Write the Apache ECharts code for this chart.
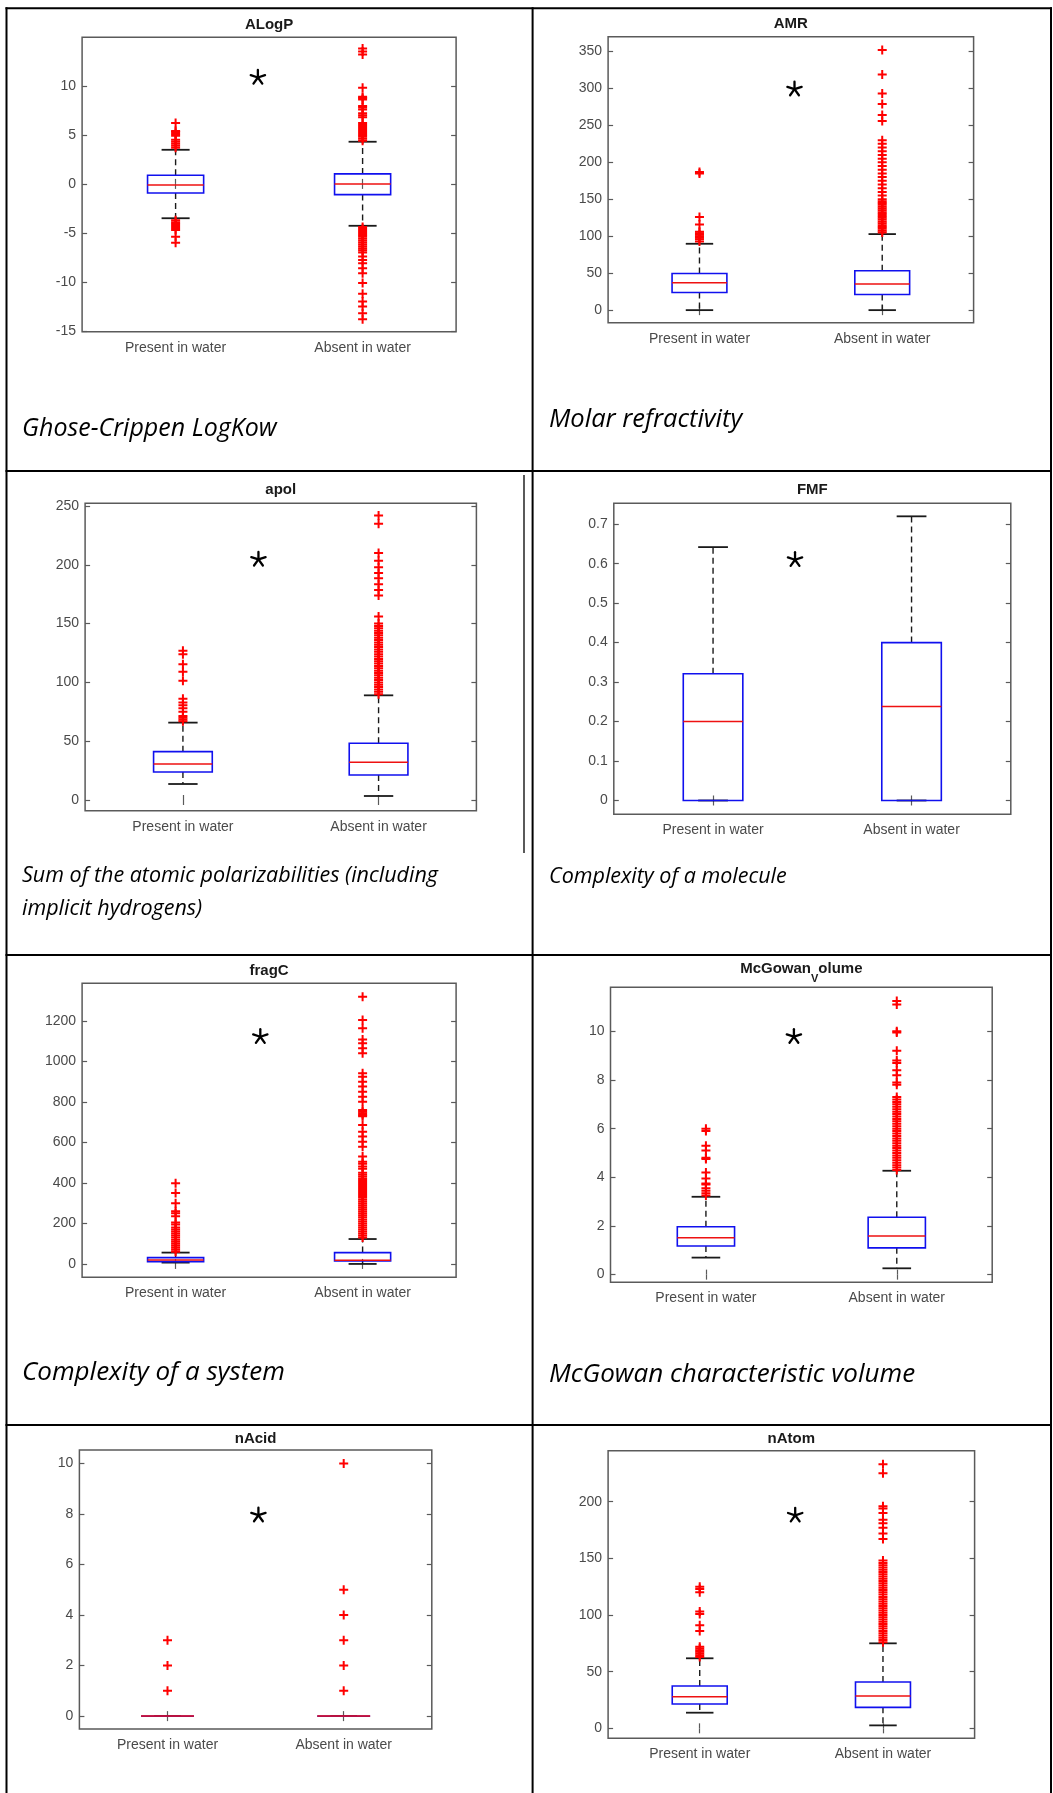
<!DOCTYPE html>
<html><head><meta charset="utf-8">
<script src="https://cdn.jsdelivr.net/npm/echarts@6/dist/echarts.min.js"></script>
<style>html,body{margin:0;padding:0;background:#fff;}#c{width:1053px;height:1793px;}</style>
</head><body><div id="c"></div>
<script>
// ---------- DATA ----------
const categories = ['Present in water', 'Absent in water'];
const panelTitles = ['ALogP', 'AMR', 'apol', 'FMF', 'fragC', '{n|McGowan}{s|V}{n|olume}', 'nAcid', 'nAtom'];
const captionTexts = ['Ghose-Crippen LogKow', 'Molar refractivity', 'Sum of the atomic polarizabilities (including', 'implicit hydrogens)', 'Complexity of a molecule', 'Complexity of a system', 'McGowan characteristic volume'];

// stats per group: [lower whisker, Q1, median, Q3, upper whisker]
const alogpStats = [[-3.5, -0.92, -0.1, 0.89, 3.48], [-4.27, -1.09, 0.0, 1.02, 4.3]];
const amrStats = [[0, 23.9, 37, 49.6, 89.8], [0, 21.2, 35.2, 53.3, 102.9]];
const apolStats = [[13.6, 23.8, 30.6, 41.1, 65.8], [3.4, 21.3, 32.0, 48.2, 89.0]];
const fmfStats = [[0, 0, 0.2, 0.321, 0.642], [0, 0, 0.238, 0.4, 0.72]];
const fragcStats = [[6.6, 11.5, 20, 31, 56], [0, 15, 18, 56, 123]];
const mcgowanStats = [[0.7, 1.18, 1.52, 1.97, 3.2], [0.26, 1.1, 1.59, 2.36, 4.27]];
const nacidStats = [[0, 0, 0, 0, 0], [0, 0, 0, 0, 0]];
const natomStats = [[13.8, 21.5, 27.9, 37.4, 61.8], [2.6, 18.5, 28.5, 40.9, 75]];

// outliers
const alogpOutPresent = [3.7, 3.9, 4.1, 4.3, 4.5, 4.9, 5.1, 5.3, 5.4, 6.2, -3.7, -3.9, -4.1, -4.3, -4.5, -4.7, -5.4, -6.0];
const alogpOutAbsent = [4.4, 4.6, 4.8, 5.0, 5.2, 5.4, 5.6, 5.8, 6.0, 6.2, 6.8, 7.0, 7.2, 7.6, 7.8, 7.95, 8.6, 8.75, 8.9, 9.8, 13.2, 13.5, 13.8,
  -4.4, -4.6, -4.8, -5.0, -5.2, -5.4, -5.6, -5.8, -6.0, -6.2, -6.4, -6.6, -6.8, -7.0, -7.4, -7.75, -8.1, -8.6, -9.1, -10.1, -11.2, -12.0, -12.5, -13.2, -13.8];
const amrOutPresent = [93, 96, 98, 100, 102, 104, 106, 116, 126, 185, 187];
const amrOutAbsent = [105, 107.5, 110, 112.5, 115, 117.5, 120, 122.5, 125, 127.5, 130, 132.5, 135, 137.5, 140, 142.5, 145, 147.5, 150,
  155, 160, 165, 170, 175, 180, 185, 190, 195, 200, 205, 210, 215, 220, 225, 230, 256, 264, 279, 293, 319, 352];
const apolOutPresent = [67, 68.5, 70, 71.5, 75, 78, 80.5, 83, 86, 101.5, 109, 115.5, 124, 127];
const apolOutAbsent = [90, 92, 94, 96, 98, 100, 102, 104, 106, 108, 110, 112, 114, 116, 118, 120, 122, 124, 126, 128, 130, 132, 134, 136, 138, 140, 142, 144, 146, 148, 150,
  156, 174, 178.5, 183.5, 188.5, 193, 198, 203.5, 210, 235, 242];
const fmfOutPresent = [];
const fmfOutAbsent = [];
const fragcOutPresent = [60, 70, 80, 90, 100, 110, 120, 130, 140, 150, 160, 170, 180, 195, 205, 235, 250, 260, 300, 350, 398];
const fragcOutAbsent = [130, 140, 150, 160, 170, 180, 190, 200, 210, 220, 230, 240, 250, 260, 270, 280, 290, 300, 310, 320, 330, 340, 350, 360, 370, 380, 390, 400, 410, 420, 430, 440, 450,
  470, 481, 495, 505, 530, 579, 604, 629, 653, 686, 730, 736, 744, 752, 760, 801, 826, 851, 876, 900, 925, 942, 1040, 1065, 1090, 1109, 1164, 1205, 1320];
const mcgowanOutPresent = [3.25, 3.35, 3.45, 3.55, 3.7, 3.75, 3.95, 4.2, 4.75, 4.8, 5.1, 5.3, 5.9, 6.0];
const mcgowanOutAbsent = [4.3, 4.4, 4.5, 4.6, 4.7, 4.8, 4.9, 5.0, 5.1, 5.2, 5.3, 5.4, 5.5, 5.6, 5.7, 5.8, 5.9, 6.0, 6.1, 6.2, 6.3, 6.4, 6.5, 6.6, 6.7, 6.8, 6.9, 7.0, 7.1, 7.2, 7.3,
  7.8, 7.9, 8.2, 8.4, 8.7, 8.8, 9.2, 9.95, 10.0, 11.1, 11.25];
const nacidOutPresent = [1, 2, 3];
const nacidOutAbsent = [1, 2, 3, 4, 5, 10];
const natomOutPresent = [63, 64.5, 66, 67.5, 69, 70.5, 72, 86, 91, 101, 103, 120, 123, 125];
const natomOutAbsent = [76, 78, 80, 82, 84, 86, 88, 90, 92, 94, 96, 98, 100, 102, 104, 106, 108, 110, 112, 114, 116, 118, 120, 122, 124, 126, 128, 130, 132, 134, 136, 138, 140, 142, 144, 146, 148,
  167, 172, 177, 181, 184, 190, 194, 196, 225, 233];

// tick labels
const alogpTicks = [-15, -10, -5, 0, 5, 10];
const amrTicks = [0, 50, 100, 150, 200, 250, 300, 350];
const apolTicks = [0, 50, 100, 150, 200, 250];
const fmfTicks = [0, 0.1, 0.2, 0.3, 0.4, 0.5, 0.6, 0.7];
const fragcTicks = [0, 200, 400, 600, 800, 1000, 1200];
const mcgowanTicks = [0, 2, 4, 6, 8, 10];
const nacidTicks = [0, 2, 4, 6, 8, 10];
const natomTicks = [0, 50, 100, 150, 200];

// significance star: [position between groups (0..1), y value]
const alogpStar = [0.44, 10.85];
const amrStar = [0.52, 299];
const apolStar = [0.386, 204.6];
const fmfStar = [0.413, 0.61];
const fragcStar = [0.453, 1122];
const mcgowanStar = [0.461, 9.78];
const nacidStar = [0.516, 7.95];
const natomStar = [0.521, 188];

// axis ranges
const yRanges = [[-15.07, 14.95], [-17, 370], [-9.1, 252.3], [-0.035, 0.753], [-66, 1386], [-0.315, 11.81], [-0.51, 10.53], [-8.8, 245]];

// ---------- LAYOUT ----------
const gridRects = [
  [82.1, 37.3, 374, 294.4], [608.1, 36.7, 365.5, 286],
  [85.1, 503.3, 391.3, 307.4], [613.8, 503.3, 397, 311],
  [82.1, 983.3, 374, 294], [610.5, 987.3, 381.7, 295],
  [79.4, 1450, 352.4, 279], [608.1, 1450.7, 366.5, 287.6]
];
const titleTops = [17, 16, 482, 482, 963, 961, 1431, 1431];
const captionLayout = [[22, 429, 25], [549, 420, 25.5], [22, 876, 21.5], [22, 909, 21.5], [549, 877, 21.5], [22, 1373, 26], [549, 1375, 26]];

const panels = [
  [alogpStats, alogpOutPresent, alogpOutAbsent, alogpTicks, alogpStar],
  [amrStats, amrOutPresent, amrOutAbsent, amrTicks, amrStar],
  [apolStats, apolOutPresent, apolOutAbsent, apolTicks, apolStar],
  [fmfStats, fmfOutPresent, fmfOutAbsent, fmfTicks, fmfStar],
  [fragcStats, fragcOutPresent, fragcOutAbsent, fragcTicks, fragcStar],
  [mcgowanStats, mcgowanOutPresent, mcgowanOutAbsent, mcgowanTicks, mcgowanStar],
  [nacidStats, nacidOutPresent, nacidOutAbsent, nacidTicks, nacidStar],
  [natomStats, natomOutPresent, natomOutAbsent, natomTicks, natomStar]
];

const axisFont = '"Liberation Sans", Arial, Helvetica, sans-serif';
const axisColor = '#4a4a4a';
const frameColor = '#5a5a5a';
const plusPath = 'path://M3.5,0H5.5V3.5H9V5.5H5.5V9H3.5V5.5H0V3.5H3.5Z';

function renderBox(params, api) {
  const c = api.value(0);
  const lo = api.coord([c, api.value(1)]);
  const q1 = api.coord([c, api.value(2)]);
  const md = api.coord([c, api.value(3)]);
  const q3 = api.coord([c, api.value(4)]);
  const hi = api.coord([c, api.value(5)]);
  const x = md[0];
  const bw = api.size([1, 0])[0] * 0.30;
  const cap = bw / 4;
  const dash = { stroke: '#1a1a1a', lineWidth: 1.4, lineDash: [6, 4], fill: null };
  const solid = { stroke: '#1a1a1a', lineWidth: 1.8, fill: null };
  return {
    type: 'group',
    children: [
      { type: 'line', shape: { x1: x, y1: q3[1], x2: x, y2: hi[1] }, style: dash },
      { type: 'line', shape: { x1: x, y1: q1[1], x2: x, y2: lo[1] }, style: dash },
      { type: 'line', shape: { x1: x - cap, y1: hi[1], x2: x + cap, y2: hi[1] }, style: solid },
      { type: 'line', shape: { x1: x - cap, y1: lo[1], x2: x + cap, y2: lo[1] }, style: solid },
      { type: 'rect', shape: { x: x - bw / 2, y: q3[1], width: bw, height: q1[1] - q3[1] }, style: { fill: null, stroke: '#1010ee', lineWidth: 1.6 } },
      { type: 'line', shape: { x1: x - bw / 2, y1: md[1], x2: x + bw / 2, y2: md[1] }, style: { stroke: '#ee1111', lineWidth: 1.5 } }
    ]
  };
}

function renderStar(params, api) {
  const y = api.value(1);
  const frac = api.value(2);
  const a = api.coord([0, y]);
  const b = api.coord([1, y]);
  const cx = a[0] + (b[0] - a[0]) * frac;
  const cy = a[1];
  const r = 7.5;
  const children = [];
  [-90, -18, 54, 126, 198].forEach(function (deg) {
    const t = deg * Math.PI / 180;
    children.push({ type: 'line', shape: { x1: cx, y1: cy, x2: cx + r * Math.cos(t), y2: cy + r * Math.sin(t) }, style: { stroke: '#000', lineWidth: 2.3, lineCap: 'round' } });
  });
  return { type: 'group', children: children };
}

const grid = [], xAxis = [], yAxis = [], series = [], title = [];
panels.forEach(function (p, i) {
  const r = gridRects[i];
  grid.push({ left: r[0], top: r[1], width: r[2], height: r[3], show: true, borderColor: frameColor, borderWidth: 1.5, backgroundColor: '#fff' });
  const tickStyle = { show: true, inside: true, length: 5, alignWithLabel: true, lineStyle: { color: frameColor, width: 1.2 } };
  xAxis.push({ type: 'category', gridIndex: i, data: categories, position: 'bottom', boundaryGap: true,
    axisLine: { show: false }, axisTick: tickStyle,
    axisLabel: { interval: 0, color: axisColor, fontSize: 14, fontFamily: axisFont, margin: 9 } });
  xAxis.push({ type: 'category', gridIndex: i, data: categories, position: 'top', boundaryGap: true,
    axisLine: { show: false }, axisTick: tickStyle, axisLabel: { show: false } });
  const ticks = p[3];
  const yBase = { type: 'value', gridIndex: i, min: yRanges[i][0], max: yRanges[i][1],
    axisLine: { show: false }, splitLine: { show: false } };
  yAxis.push(Object.assign({}, yBase, { position: 'left',
    axisTick: { show: true, inside: true, length: 5, customValues: ticks, lineStyle: { color: frameColor, width: 1.2 } },
    axisLabel: { show: true, customValues: ticks, color: axisColor, fontSize: 14, fontFamily: axisFont, margin: 6,
      formatter: function (v) { return String(v); } } }));
  yAxis.push(Object.assign({}, yBase, { position: 'right',
    axisTick: { show: true, inside: true, length: 5, customValues: ticks, lineStyle: { color: frameColor, width: 1.2 } },
    axisLabel: { show: false } }));

  const xi = 2 * i, yi = 2 * i;
  const stats = p[0];
  series.push({ type: 'custom', xAxisIndex: xi, yAxisIndex: yi, silent: true, z: 2,
    encode: { x: 0, y: [1, 2, 3, 4, 5] }, renderItem: renderBox,
    data: [[0].concat(stats[0]), [1].concat(stats[1])] });
  const outData = p[1].map(function (v) { return [0, v]; }).concat(p[2].map(function (v) { return [1, v]; }));
  series.push({ type: 'scatter', xAxisIndex: xi, yAxisIndex: yi, silent: true, z: 3,
    symbol: plusPath, symbolSize: 9, itemStyle: { color: '#ff0000', opacity: 1 }, data: outData });
  series.push({ type: 'custom', xAxisIndex: xi, yAxisIndex: yi, silent: true, z: 4,
    encode: { x: 0, y: 1 }, renderItem: renderStar, data: [[0, p[4][1], p[4][0]]] });

  title.push({ text: panelTitles[i], left: r[0] + r[2] / 2, top: titleTops[i], textAlign: 'center', padding: 0,
    textStyle: { fontSize: 15, fontWeight: 'bold', color: '#1a1a1a', fontFamily: axisFont,
      rich: {
        n: { fontSize: 15, fontWeight: 'bold', color: '#1a1a1a', fontFamily: axisFont, lineHeight: 18, verticalAlign: 'top' },
        s: { fontSize: 11, fontWeight: 'bold', color: '#1a1a1a', fontFamily: axisFont, lineHeight: 11, padding: [12, 0, 0, 0], verticalAlign: 'top' }
      } } });
});

// table lines + captions
const graphic = [];
function hline(x1, x2, y, w) { graphic.push({ type: 'line', shape: { x1: x1, y1: y, x2: x2, y2: y }, style: { stroke: '#000', lineWidth: w }, silent: true }); }
function vline(x, y1, y2, w) { graphic.push({ type: 'line', shape: { x1: x, y1: y1, x2: x, y2: y2 }, style: { stroke: '#000', lineWidth: w }, silent: true }); }
hline(5.5, 1052, 8.3, 2);
hline(5.5, 1052, 471, 2);
hline(5.5, 1052, 955, 2);
hline(5.5, 1052, 1425, 2);
vline(6.5, 7.3, 1793, 2);
vline(532.6, 7.3, 1793, 2);
vline(1051, 7.3, 1793, 2);
vline(524, 475, 853, 1.3);
captionTexts.forEach(function (t, k) {
  const L = captionLayout[k];
  graphic.push({ type: 'text', x: L[0], y: L[1], silent: true,
    style: { text: t, fill: '#000', fontStyle: 'italic', fontSize: L[2], fontFamily: '"Open Sans", "Noto Sans", sans-serif', verticalAlign: 'middle', align: 'left' } });
});

const chart = echarts.init(document.getElementById('c'), null, { renderer: 'canvas' });
chart.setOption({ animation: false, backgroundColor: '#fff', title: title, grid: grid, xAxis: xAxis, yAxis: yAxis, series: series, graphic: graphic });
</script></body></html>
